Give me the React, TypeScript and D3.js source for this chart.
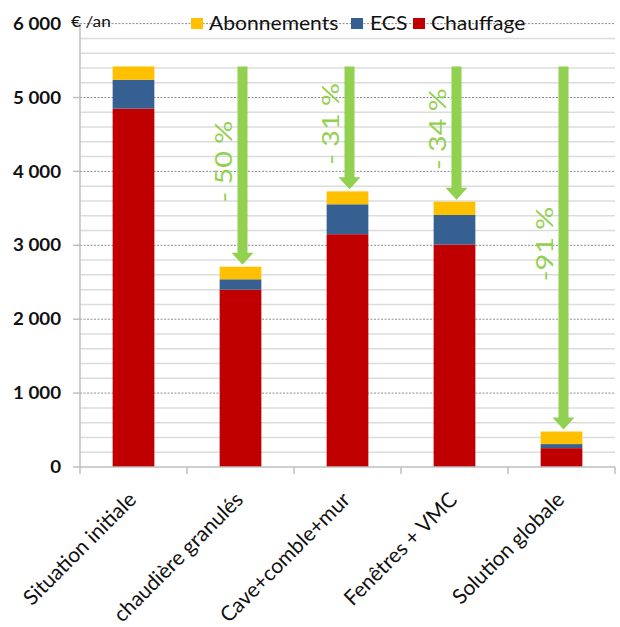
import React from "react";
import * as d3 from "d3";

// Annual energy bill per scenario, in €/an
const categories = [
  "Situation initiale",
  "chaudière granulés",
  "Cave+comble+mur",
  "Fenêtres + VMC",
  "Solution globale",
];
const chauffage = [4850, 2400, 3150, 3010, 255];
const ecs = [390, 140, 405, 400, 55];
const abonnements = [180, 170, 175, 180, 170];
const savingsLabels = ["", "- 50 %", "- 31 %", "- 34 %", "-91 %"];
const yTicks = [0, 1000, 2000, 3000, 4000, 5000, 6000];

const seriesKeys = ["chauffage", "ecs", "abonnements"] as const;
const seriesNames: Record<string, string> = {
  chauffage: "Chauffage",
  ecs: "ECS",
  abonnements: "Abonnements",
};
const colors: Record<string, string> = {
  chauffage: "#C00000",
  ecs: "#376092",
  abonnements: "#FFC000",
};
const legendOrder = ["abonnements", "ecs", "chauffage"];

const W = 620;
const H = 627;
const margin = { left: 80, right: 5, top: 23.6 };
const FONT = "Lato, 'Open Sans', sans-serif";
const GREEN = "#92D050";

export default function App() {
  const rows = categories.map((c, i) => ({
    cat: c,
    chauffage: chauffage[i],
    ecs: ecs[i],
    abonnements: abonnements[i],
  }));
  const stacked = d3.stack<any>().keys(seriesKeys as any)(rows);
  const totals = rows.map((r) => r.chauffage + r.ecs + r.abonnements);

  const x = d3
    .scaleBand<string>()
    .domain(categories)
    .range([margin.left, W - margin.right])
    .paddingInner(0)
    .paddingOuter(0);
  const y = d3.scaleLinear().domain([0, 6000]).range([467, margin.top]);
  const barW = x.bandwidth() * 0.39;
  const minor = d3.range(0, 6001, 200).filter((v) => v % 1000 !== 0);

  const axisColor = "#BFBFBF";

  return (
    <svg
      width={W}
      height={H}
      style={{ position: "absolute", left: 0, top: 0, background: "#fff" }}
      fontFamily={FONT}
    >
      <rect width={W} height={H} fill="#fff" />
      {/* minor gridlines */}
      {minor.map((v) => (
        <line
          key={"m" + v}
          x1={margin.left}
          x2={W - margin.right}
          y1={y(v)}
          y2={y(v)}
          stroke="#DCDCDC"
          strokeWidth={1.5}
        />
      ))}
      {/* major gridlines */}
      {yTicks
        .filter((v) => v > 0)
        .map((v) => (
          <line
            key={"M" + v}
            x1={margin.left}
            x2={W - margin.right}
            y1={y(v)}
            y2={y(v)}
            stroke="#8C8C8C"
            strokeWidth={1}
            strokeDasharray="2,1.5"
          />
        ))}

      {/* y axis */}
      <line x1={margin.left} x2={margin.left} y1={y(6000)} y2={y(0)} stroke={axisColor} strokeWidth={1.5} />
      {yTicks.map((v) => (
        <g key={"t" + v}>
          <line x1={margin.left - 7} x2={margin.left} y1={y(v)} y2={y(v)} stroke={axisColor} strokeWidth={1.5} />
          <text
            transform={`translate(61 ${y(v)}) scale(1.1 1)`}
            dy="0.36em"
            textAnchor="end"
            fontWeight="bold"
            fontSize={17}
            fill="#111"
          >
            {d3.format(",")(v).replace(",", " ")}
          </text>
        </g>
      ))}
      <text transform="translate(71 27) scale(1.08 1)" fontSize={16} fill="#111">
        € /an
      </text>

      {/* stacked bars */}
      {stacked.map((s) => (
        <g key={s.key} fill={colors[s.key]}>
          {s.map((d, i) => (
            <rect
              key={i}
              x={(x(categories[i]) as number) + (x.bandwidth() - barW) / 2}
              y={y(d[1])}
              width={barW}
              height={y(d[0]) - y(d[1])}
            />
          ))}
        </g>
      ))}

      {/* x axis */}
      <line x1={margin.left} x2={W - margin.right} y1={y(0)} y2={y(0)} stroke={axisColor} strokeWidth={1.5} />
      {categories.concat([""]).map((c, i) => {
        const xx = margin.left + i * x.bandwidth();
        return <line key={"xt" + i} x1={xx} x2={xx} y1={y(0)} y2={y(0) + 7} stroke={axisColor} strokeWidth={1.5} />;
      })}
      {categories.map((c) => {
        const cx = (x(c) as number) + x.bandwidth() / 2 + 4;
        const cy = 501;
        return (
          <text
            key={"xl" + c}
            textAnchor="end"
            fontSize={21}
            fill="#111"
            transform={`translate(${cx} ${cy}) rotate(-45)`}
          >
            {c}
          </text>
        );
      })}

      {/* reduction arrows from the initial total down to each scenario */}
      {categories.map((c, i) => {
        if (i === 0) return null;
        const ax = (x(c) as number) + x.bandwidth() / 2 + 2;
        const yTop = y(totals[0]);
        const yTip = y(totals[i]) - 2;
        const headH = 12;
        const headW = 22;
        const shaftW = 10;
        const path = [
          [ax - shaftW / 2, yTop],
          [ax + shaftW / 2, yTop],
          [ax + shaftW / 2, yTip - headH],
          [ax + headW / 2, yTip - headH],
          [ax, yTip],
          [ax - headW / 2, yTip - headH],
          [ax - shaftW / 2, yTip - headH],
        ];
        const ly = (yTop + yTip) / 2 - 4;
        const lx = ax - 19;
        return (
          <g key={"arr" + i}>
            <path d={d3.line()(path as any) + "Z"} fill={GREEN} />
            <text
              textAnchor="middle"
              dominantBaseline="central"
              fontSize={23}
              fill={GREEN}
              transform={`translate(${lx} ${ly}) rotate(-90) scale(1.25 1)`}
            >
              {savingsLabels[i]}
            </text>
          </g>
        );
      })}

      {/* legend */}
      {(() => {
        const pos: Record<string, [number, number]> = {
          abonnements: [191, 209],
          ecs: [351, 370],
          chauffage: [413, 431],
        };
        return legendOrder.map((k) => (
          <g key={"lg" + k}>
            <rect x={pos[k][0]} y={18} width={12} height={11} fill={colors[k]} />
            <text
              transform={`translate(${pos[k][1]} 29.5) scale(1.14 1)`}
              fontSize={18.5}
              fill="#111"
            >
              {seriesNames[k]}
            </text>
          </g>
        ));
      })()}
    </svg>
  );
}
